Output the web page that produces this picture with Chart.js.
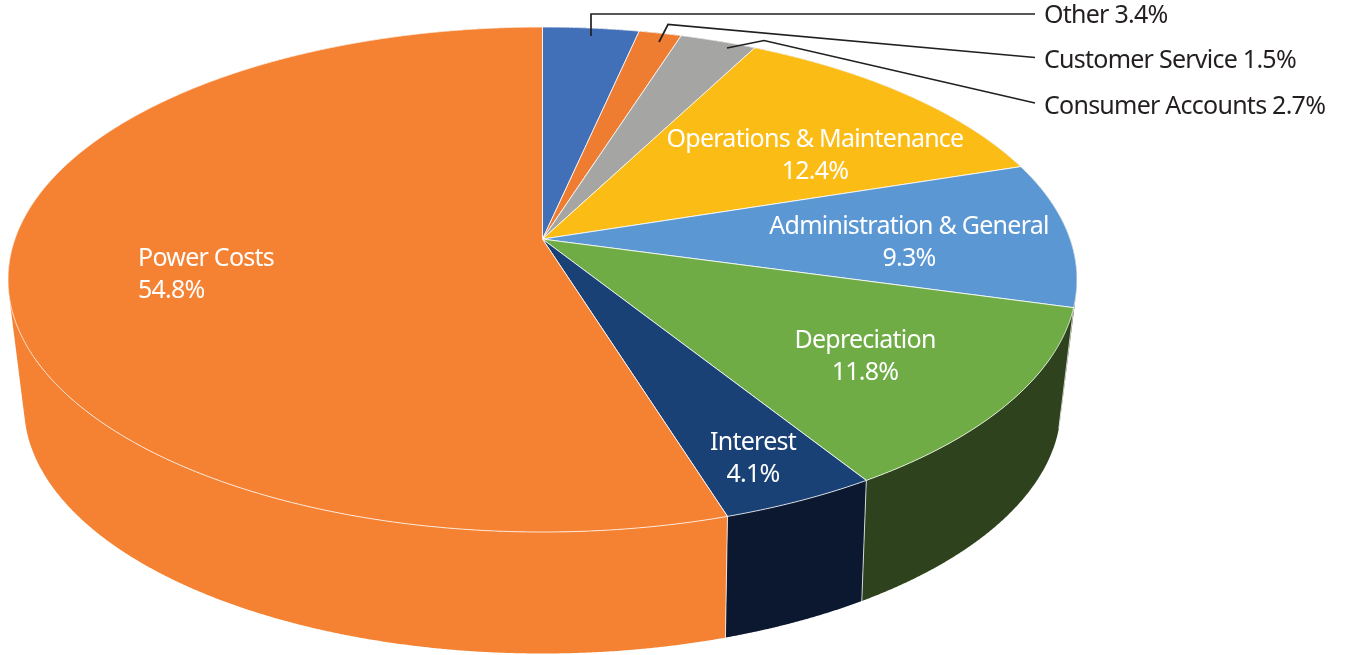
<!DOCTYPE html>
<html>
<head>
<meta charset="utf-8">
<title>Expenses</title>
<script src="https://cdn.jsdelivr.net/npm/chart.js@4/dist/chart.umd.min.js"></script>
<style>
html, body { margin: 0; padding: 0; background: #fff; }
canvas { display: block; }
</style>
</head>
<body>
<canvas id="pieChart" width="1345" height="655"></canvas>
<script>
var categories = ["Other", "Customer Service", "Consumer Accounts", "Operations & Maintenance",
    "Administration & General", "Depreciation", "Interest", "Power Costs"];
var values = [3.4, 1.5, 2.7, 12.4, 9.3, 11.8, 4.1, 54.8];
var faceColors = ['#4270b8', '#ee7d31', '#a5a5a4', '#fbbc15', '#5a97d3', '#6fac46', '#1a4175', '#f58233'];
var wallColors = ['#20375c', '#773e18', '#525252', '#7d5e0a', '#2e431d', '#2e431d', '#0b1830', '#f58233'];

// rim of the lid and of the base, seen in perspective
var lid = { cx: 542.5, cy: 279.5, rx: 534.5, ry: 252.5, tilt: -0.16 };
var base = { cx: 542.5, cy: 406, rx: 518.5, ry: 247.5, tilt: -0.18 };
var steps = 6; // samples per degree-ish

function rim(e, angle) {
    var u = Math.cos(angle), v = Math.sin(angle);
    var d = 1 + e.tilt * v;
    return {
        x: e.cx + e.rx * u * Math.sqrt(1 - e.tilt * e.tilt) / d,
        y: e.cy + e.ry * (v + e.tilt) / d
    };
}

function apex(e) {
    return { x: e.cx, y: e.cy + e.ry * e.tilt };
}

// library still walks its arcs, they just get drawn through the projection
var ArcElement = Chart.registry.getElement('arc');
ArcElement.prototype.draw = function (ctx) {
    var a = this.startAngle, b = this.endAngle;
    var n = Math.max(2, Math.ceil((b - a) * 180 / Math.PI * steps));
    var c = apex(lid);
    ctx.save();
    ctx.beginPath();
    ctx.moveTo(c.x, c.y);
    for (var i = 0; i <= n; i++) {
        var p = rim(lid, a + (b - a) * i / n);
        ctx.lineTo(p.x, p.y);
    }
    ctx.closePath();
    ctx.fillStyle = this.options.backgroundColor;
    ctx.fill();
    ctx.strokeStyle = this.options.borderColor;
    ctx.lineWidth = this.options.borderWidth;
    ctx.lineJoin = 'round';
    ctx.stroke();
    ctx.restore();
};

function addQuad(ctx, pts) {
    // same winding for every quad so one path fills as a union, no seams
    var area = 0;
    for (var i = 0; i < 4; i++) {
        var p = pts[i], q = pts[(i + 1) % 4];
        area += p.x * q.y - q.x * p.y;
    }
    if (area < 0) pts.reverse();
    ctx.moveTo(pts[0].x, pts[0].y);
    ctx.lineTo(pts[1].x, pts[1].y);
    ctx.lineTo(pts[2].x, pts[2].y);
    ctx.lineTo(pts[3].x, pts[3].y);
    ctx.closePath();
}

var wallPlugin = {
    id: 'wall',
    beforeDatasetsDraw: function (chart) {
        var ctx = chart.ctx;
        var arcs = chart.getDatasetMeta(0).data;
        ctx.save();
        arcs.forEach(function (arc, k) {
            var a = arc.startAngle, b = arc.endAngle;
            var n = Math.max(2, Math.ceil((b - a) * 180 / Math.PI * steps));
            ctx.fillStyle = wallColors[k];
            ctx.beginPath();
            for (var i = 0; i < n; i++) {
                var a0 = a + (b - a) * i / n, a1 = a + (b - a) * (i + 1) / n;
                addQuad(ctx, [rim(lid, a0), rim(lid, a1), rim(base, a1), rim(base, a0)]);
            }
            ctx.fill();
        });
        // seams between the wall pieces
        ctx.strokeStyle = 'rgba(255,255,255,0.75)';
        ctx.lineWidth = 1;
        arcs.forEach(function (arc) {
            var p = rim(lid, arc.startAngle), q = rim(base, arc.startAngle);
            ctx.beginPath();
            ctx.moveTo(p.x, p.y);
            ctx.lineTo(q.x, q.y);
            ctx.stroke();
        });
        ctx.restore();
    }
};

var inside = [
    { k: 3, x: 815, y: 147, align: 'center' },
    { k: 4, x: 909, y: 234, align: 'center' },
    { k: 5, x: 865, y: 348, align: 'center' },
    { k: 6, x: 753, y: 450, align: 'center' },
    { k: 7, x: 138, y: 266, align: 'left' }
];
var outside = [
    { k: 0, x: 1044, y: 23, line: [[591, 36], [591, 14], [1035, 14]] },
    { k: 1, x: 1044, y: 68, line: [[659, 42], [668, 24.5], [1035, 57.5]] },
    { k: 2, x: 1044, y: 114, line: [[727, 48], [764, 40.5], [1035, 103]] }
];

var labelPlugin = {
    id: 'labels',
    afterDatasetsDraw: function (chart) {
        var ctx = chart.ctx;
        ctx.save();
        ctx.font = '25px "Noto Sans"';
        ctx.letterSpacing = '-0.75px';
        ctx.textBaseline = 'alphabetic';
        ctx.fillStyle = '#fff';
        inside.forEach(function (t) {
            ctx.textAlign = t.align;
            ctx.fillText(categories[t.k], t.x, t.y);
            ctx.fillText(values[t.k].toFixed(1) + '%', t.x, t.y + 32);
        });
        ctx.textAlign = 'left';
        ctx.fillStyle = '#231f20';
        ctx.strokeStyle = '#231f20';
        ctx.lineWidth = 1.7;
        outside.forEach(function (t) {
            ctx.fillText(categories[t.k] + ' ' + values[t.k].toFixed(1) + '%', t.x, t.y);
            ctx.beginPath();
            t.line.forEach(function (p, i) {
                if (i === 0) ctx.moveTo(p[0], p[1]);
                else ctx.lineTo(p[0], p[1]);
            });
            ctx.stroke();
        });
        ctx.restore();
    }
};

var ctx = document.getElementById("pieChart").getContext('2d');
var myPieChart = new Chart(ctx, {
    type: 'pie',
    data: {
        labels: categories,
        datasets: [{
            data: values,
            backgroundColor: faceColors,
            borderColor: 'rgba(255,255,255,0.8)',
            borderWidth: 1
        }]
    },
    options: {
        responsive: false,
        animation: false,
        events: [],
        plugins: {
            legend: { display: false },
            tooltip: { enabled: false }
        }
    },
    plugins: [wallPlugin, labelPlugin]
});
</script>
</body>
</html>
